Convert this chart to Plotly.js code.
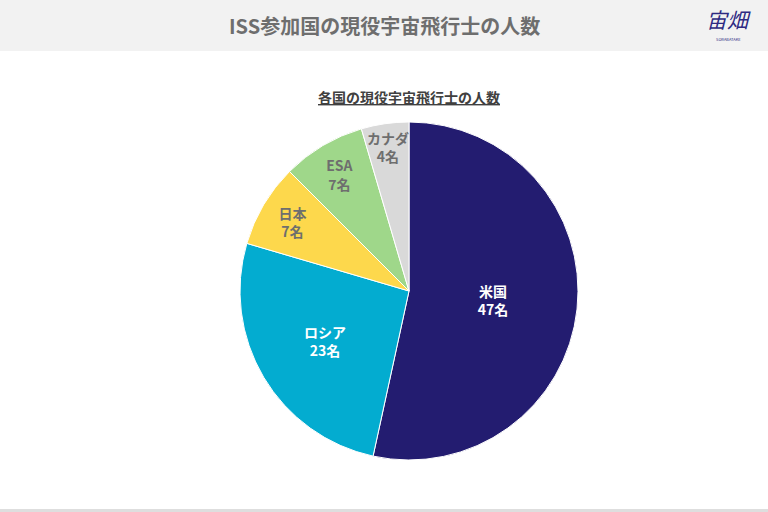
<!DOCTYPE html>
<html>
<head>
<meta charset="utf-8">
<script src="https://cdn.plot.ly/plotly-3.0.1.min.js"></script>
<style>html,body{margin:0;padding:0;background:#fff;}#chart{width:768px;height:512px;}</style>
</head>
<body>
<div id="chart"></div>
<script>
const categories = ['米国', 'ロシア', '日本', 'ESA', 'カナダ'];
const values = [47, 23, 7, 7, 4];
const unit = '名';
const colors = ['#231c70', '#03acd0', '#fdd84c', '#9fd78a', '#d9d9d9'];
const textColors = ['#ffffff', '#ffffff', '#6e6e6e', '#6e6e6e', '#6e6e6e'];
const mainTitle = 'ISS参加国の現役宇宙飛行士の人数';
const subTitle = '各国の現役宇宙飛行士の人数';

const FONT = '"Noto Sans CJK JP", "Noto Sans", sans-serif';
const W = 768, H = 512;
const cx = 409, cy = 291, r = 169;

const labelText = categories.map((c, i) => '<b>' + c + '<br>' + values[i] + unit + '</b>');
// the smallest slice keeps a full-size label drawn as an annotation placed from its own value
const total = values.reduce((a, b) => a + b, 0);
const lastIdx = values.length - 1;
const before = values.slice(0, lastIdx).reduce((a, b) => a + b, 0);
const midAng = (before + values[lastIdx] / 2) / total * 2 * Math.PI;
const lr = 0.86 * r;
const lastX = cx + Math.sin(midAng) * lr;
const lastY = cy - Math.cos(midAng) * lr;

const trace = {
  type: 'pie',
  labels: categories,
  values: values,
  text: labelText.map((t, i) => i === lastIdx ? '' : t),
  textinfo: 'text',
  textposition: values.map((v, i) => i === lastIdx ? 'none' : 'inside'),
  insidetextorientation: 'horizontal',
  insidetextfont: {family: FONT, size: 14, color: textColors},
  sort: false,
  direction: 'clockwise',
  rotation: 0,
  marker: {colors: colors, line: {color: '#ffffff', width: 1}},
  domain: {x: [(cx - r) / W, (cx + r) / W], y: [1 - (cy + r) / H, 1 - (cy - r) / H]},
  hoverinfo: 'label+value',
  showlegend: false
};

const layout = {
  width: W, height: H,
  margin: {l: 0, r: 0, t: 0, b: 0},
  paper_bgcolor: '#ffffff',
  font: {family: FONT},
  showlegend: false,
  shapes: [
    {type: 'rect', xref: 'paper', yref: 'paper', x0: 0, x1: 1, y0: 1 - 51 / H, y1: 1,
     fillcolor: '#f2f2f2', line: {width: 0}, layer: 'below'},
    {type: 'rect', xref: 'paper', yref: 'paper', x0: 0, x1: 1, y0: 0, y1: 3 / H,
     fillcolor: '#dedede', line: {width: 0}, layer: 'below'}
  ],
  annotations: [
    {text: '<b>' + mainTitle + '</b>', xref: 'paper', yref: 'paper', x: 384 / W, y: 1 - 25 / H,
     xanchor: 'center', yanchor: 'middle', showarrow: false,
     font: {family: FONT, size: 20, color: '#6e6e6e'}},
    {text: '<b><u>' + subTitle + '</u></b>', xref: 'paper', yref: 'paper', x: 409 / W, y: 1 - 97 / H,
     xanchor: 'center', yanchor: 'middle', showarrow: false,
     font: {family: FONT, size: 14, color: '#404040'}},
    {text: labelText[lastIdx], xref: 'paper', yref: 'paper', x: lastX / W, y: 1 - lastY / H,
     xanchor: 'center', yanchor: 'middle', showarrow: false,
     font: {family: FONT, size: 14, color: textColors[lastIdx]}},
    {text: '<i>宙畑</i>', xref: 'paper', yref: 'paper', x: 728 / W, y: 1 - 19 / H,
     xanchor: 'center', yanchor: 'middle', showarrow: false,
     font: {family: FONT, size: 21, color: '#2e2a82'}},
    {text: 'SORABATAKE', xref: 'paper', yref: 'paper', x: 728 / W, y: 1 - 39 / H,
     xanchor: 'center', yanchor: 'middle', showarrow: false,
     font: {family: FONT, size: 4, color: '#2e2a82'}}
  ]
};

Plotly.newPlot('chart', [trace], layout, {displayModeBar: false, staticPlot: true});
</script>
</body>
</html>
